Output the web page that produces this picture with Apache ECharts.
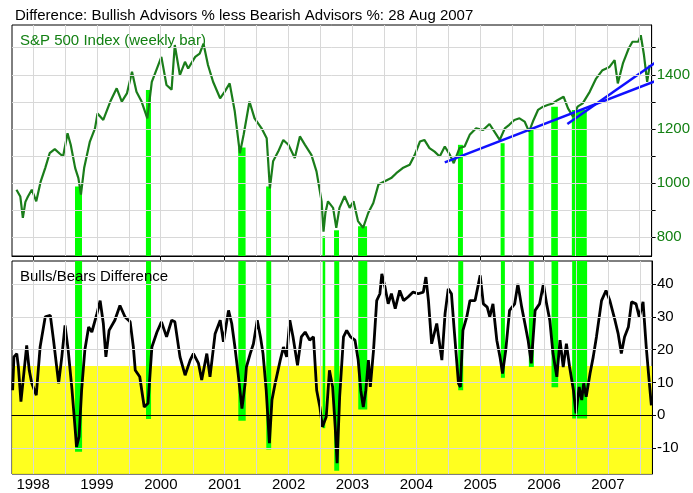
<!DOCTYPE html>
<html>
<head>
<meta charset="utf-8">
<script src="https://cdn.jsdelivr.net/npm/echarts@6/dist/echarts.min.js"></script>
<style>
  html, body { margin: 0; padding: 0; background: #fff; }
  #main { width: 693px; height: 493px; }
</style>
</head>
<body>
<div id="main"></div>
<script>
// S&P 500 (weekly), x in decimal years
const spDates = [1997.74,1997.80,1997.84,1997.88,1997.92,1997.98,1998.05,1998.12,1998.19,1998.26,1998.34,1998.42,1998.47,1998.54,1998.59,1998.66,1998.71,1998.75,1998.80,1998.89,1998.97,
  1999.01,1999.10,1999.21,1999.31,1999.39,1999.47,1999.55,1999.62,1999.70,1999.79,1999.86,1999.94,
  2000.01,2000.09,2000.17,2000.22,2000.30,2000.38,2000.43,2000.54,2000.61,2000.67,2000.74,2000.82,2000.93,
  2001.00,2001.08,2001.16,2001.24,2001.30,2001.39,2001.47,2001.58,2001.66,2001.71,2001.76,2001.84,2001.92,
  2002.00,2002.10,2002.18,2002.26,2002.36,2002.44,2002.52,2002.55,2002.58,2002.62,2002.70,2002.75,2002.80,2002.88,2002.96,
  2003.02,2003.09,2003.17,2003.25,2003.33,2003.41,2003.51,2003.61,2003.69,2003.79,2003.90,2003.98,
  2004.06,2004.13,2004.21,2004.29,2004.37,2004.45,2004.53,2004.59,2004.68,2004.76,2004.84,2004.94,
  2005.05,2005.15,2005.26,2005.31,2005.39,2005.46,2005.54,2005.62,2005.70,2005.77,2005.83,2005.91,2005.99,
  2006.06,2006.14,2006.22,2006.31,2006.38,2006.46,2006.53,2006.61,2006.72,2006.82,2006.92,
  2007.03,2007.11,2007.16,2007.24,2007.33,2007.39,2007.48,2007.52,2007.57,2007.62,2007.66];
const spValues = [975,950,871,930,950,975,932,1006,1055,1110,1125,1108,1098,1184,1141,1055,1018,957,1055,1153,1202,
  1257,1233,1301,1350,1301,1331,1411,1337,1301,1239,1374,1423,
  1466,1362,1345,1510,1399,1448,1423,1466,1478,1515,1436,1374,1313,
  1337,1368,1264,1110,1180,1301,1239,1202,1165,980,1080,1116,1159,
  1141,1092,1172,1141,1104,1043,932,820,890,932,908,834,908,951,908,
  932,859,834,889,926,994,1006,1018,1036,1055,1067,1104,
  1153,1159,1129,1116,1098,1135,1104,1073,1129,1135,1178,1202,
  1196,1218,1178,1159,1202,1215,1233,1239,1227,1190,1227,1270,1282,
  1288,1294,1307,1319,1276,1245,1282,1294,1337,1386,1417,
  1429,1454,1368,1442,1497,1522,1522,1546,1473,1374,1436];

// Bulls/Bears difference (%)
const diffDates = [1997.68,1997.70,1997.745,1997.77,1997.81,1997.85,1997.90,1997.94,1997.98,1998.05,1998.11,1998.19,1998.27,1998.32,1998.40,1998.45,1998.50,1998.55,1998.61,1998.66,1998.68,1998.72,1998.76,1998.81,1998.87,1998.92,
  1999.00,1999.05,1999.10,1999.14,1999.19,1999.28,1999.36,1999.44,1999.52,1999.57,1999.60,1999.67,1999.74,1999.80,1999.86,1999.94,
  2000.01,2000.09,2000.17,2000.22,2000.30,2000.38,2000.46,2000.51,2000.59,2000.64,2000.72,2000.77,2000.85,2000.93,2000.98,
  2001.06,2001.11,2001.16,2001.21,2001.27,2001.32,2001.34,2001.40,2001.45,2001.51,2001.56,2001.60,2001.65,2001.70,2001.74,2001.79,2001.87,2001.92,2001.97,
  2002.02,2002.07,2002.14,2002.20,2002.26,2002.33,2002.39,2002.44,2002.49,2002.53,2002.59,2002.64,2002.69,2002.73,2002.76,2002.80,2002.86,2002.91,2002.97,
  2003.04,2003.09,2003.13,2003.17,2003.21,2003.25,2003.28,2003.33,2003.38,2003.43,2003.46,2003.51,2003.56,2003.61,2003.67,2003.74,2003.80,2003.87,2003.95,
  2004.03,2004.11,2004.15,2004.19,2004.24,2004.32,2004.40,2004.45,2004.50,2004.55,2004.59,2004.66,2004.69,2004.73,2004.79,2004.84,2004.92,
  2005.00,2005.05,2005.11,2005.15,2005.20,2005.26,2005.31,2005.35,2005.40,2005.46,2005.54,2005.59,2005.65,2005.70,2005.75,2005.80,2005.86,2005.93,2005.99,
  2006.04,2006.09,2006.14,2006.20,2006.25,2006.30,2006.35,2006.40,2006.46,2006.50,2006.55,2006.59,2006.62,2006.66,2006.72,2006.77,2006.82,2006.90,2006.97,
  2007.03,2007.11,2007.16,2007.21,2007.26,2007.32,2007.37,2007.44,2007.49,2007.55,2007.60,2007.64,2007.68];
const diffValues = [7.6,17.8,18.8,14.7,4.1,11.7,21.3,13.7,9.7,6.1,20.8,30,30.5,22.9,9.7,17.8,27.4,19.8,7.6,-4.6,-9.7,-6.6,7.6,19.8,26.9,25.4,
  31,35,28,17.8,25.9,29,33.5,30,28.5,20.8,13.7,11.7,2.5,3.6,20.8,25.4,
  28.5,23.9,29,28.5,17.8,12.2,16.8,18.8,15.8,10.7,18.8,11.7,24.9,29,22.4,
  32,28,20.8,12.7,2.0,9.7,14.7,18.8,21.8,29,23.9,18.8,7.6,-8.6,4.6,9.7,16.8,20.8,17.8,
  29,23.9,15.2,23.9,25.4,22.9,23.9,7.6,2.5,-3.6,-0.5,13.7,8.6,-3.6,-14.7,5.6,23.9,25.9,23.9,
  22.9,16.8,7.6,2.5,7.6,16.8,8.6,19.8,35,37.1,43.2,39.1,34,37.1,32.5,38.1,35,36.1,37.6,
  37.1,37.6,42.2,35,21.8,28,16.8,31,38.6,37.1,26.9,9.7,8.6,25.9,30,35,35,
  42.7,34,33,30,34,22.9,17.8,12.7,19.8,32,34,40.1,33,28,22.9,15.8,32,34,40.1,
  34,29,18.8,11.7,22.9,14.7,21.8,14.7,7.6,0.5,8.6,4.6,9.7,5.6,12.7,17.8,23.9,35,38.1,
  35,29,24.9,18.8,23.9,26.9,34.6,34,30,34.6,20.8,11.7,3];

// green signal bands: start, end, S&P level where band tops out, difference level where band ends
const bandStart = [1998.657,1999.768,2001.213,2001.651,2002.534,2002.715,2003.091,2004.656,2005.324,2005.762,2006.117,2006.440];
const bandEnd   = [1998.767,1999.847,2001.329,2001.728,2002.574,2002.793,2003.232,2004.734,2005.387,2005.840,2006.221,2006.674];
const bandSpTop = [987,1344,1131,987,803,825,840,1141,1147,1202,1282,1270];
const bandDiffLow = [-11.2,-1.2,-1.7,-10.5,-4,-17,1.7,7.6,11.4,14.7,8.5,-1];

// blue trend lines on the S&P panel
const trendDates1 = [2004.45, 2007.765];
const trendValues1 = [1076, 1378];
const trendDates2 = [2006.37, 2007.765];
const trendValues2 = [1218, 1448];

const yearTicks = [1998,1999,2000,2001,2002,2003,2004,2005,2006,2007];
const halfYears = [1998,1998.5,1999,1999.5,2000,2000.5,2001,2001.5,2002,2002.5,2003,2003.5,2004,2004.5,2005,2005.5,2006,2006.5,2007,2007.5];
const spTicks = [800,900,1000,1100,1200,1300,1400,1500];
const spLabels = [800,1000,1200,1400];
const diffTicks = [-10,0,10,20,30,40];
const yellowLevel = 15;

const X_MIN = 1997.67, X_MAX = 2007.69;
const SP_MIN = 730, SP_MAX = 1584;
const D_MIN = -18, D_MAX = 47.1;

const pairs = (xs, ys) => xs.map((x, i) => [x, ys[i]]);
const GRID_COLOR = '#d8d8d8';
const FONT = 'Arial, "Liberation Sans", sans-serif';

const chart = echarts.init(document.getElementById('main'));

function xAxisFor(gridIndex, labels) {
  return {
    gridIndex, type: 'value', min: X_MIN, max: X_MAX, position: 'bottom',
    axisLine: { show: true, lineStyle: { color: '#000', width: 1 } },
    axisTick: { show: true, customValues: yearTicks, length: 4, lineStyle: { color: '#000' } },
    axisLabel: labels ? { show: true, customValues: yearTicks, color: '#000', fontSize: 15, fontFamily: FONT, margin: 3, formatter: v => String(v) } : { show: false },
    splitLine: { show: false }
  };
}

// light grey grid drawn as mark lines so they can sit on fixed half-year / level positions
function gridLines(xIdx, yIdx, levels) {
  return {
    type: 'line', xAxisIndex: xIdx, yAxisIndex: yIdx, data: [], z: 0, silent: true,
    markLine: { silent: true, symbol: 'none', label: { show: false }, animation: false,
      lineStyle: { color: GRID_COLOR, width: 1, type: 'solid' },
      data: halfYears.map(v => ({ xAxis: v })).concat(levels.map(v => ({ yAxis: v }))) }
  };
}

const option = {
  animation: false,
  backgroundColor: '#fff',
  title: [
    { text: 'Difference: Bullish Advisors % less Bearish Advisors %: 28 Aug 2007', left: 10, top: 3,
      textStyle: { fontSize: 15, fontWeight: 'normal', color: '#000', fontFamily: FONT } },
    { text: 'S&P 500 Index (weekly bar)', left: 15, top: 28,
      textStyle: { fontSize: 15, fontWeight: 'normal', color: '#138013', fontFamily: FONT } },
    { text: 'Bulls/Bears Difference', left: 15, top: 264,
      textStyle: { fontSize: 15, fontWeight: 'normal', color: '#000', fontFamily: FONT } }
  ],
  grid: [
    { left: 12, right: 41, top: 25, height: 231, show: true, borderColor: '#000', borderWidth: 1, backgroundColor: 'transparent' },
    { left: 12, right: 41, top: 261, height: 213, show: true, borderColor: '#000', borderWidth: 1, backgroundColor: 'transparent' }
  ],
  xAxis: [xAxisFor(0, false), xAxisFor(1, true)],
  yAxis: [
    { gridIndex: 0, type: 'value', position: 'right', min: SP_MIN, max: SP_MAX,
      axisLine: { show: true, lineStyle: { color: '#000' } },
      axisTick: { show: true, customValues: spTicks, length: 4, lineStyle: { color: '#000' } },
      axisLabel: { customValues: spLabels, color: '#138013', fontSize: 15, fontFamily: FONT, margin: 5, formatter: v => String(v) },
      splitLine: { show: false } },
    { gridIndex: 1, type: 'value', position: 'right', min: D_MIN, max: D_MAX,
      axisLine: { show: true, lineStyle: { color: '#000' } },
      axisTick: { show: true, customValues: diffTicks, length: 4, lineStyle: { color: '#000' } },
      axisLabel: { customValues: diffTicks, color: '#000', fontSize: 15, fontFamily: FONT, margin: 5, formatter: v => String(v) },
      splitLine: { show: false } }
  ],
  series: [
    gridLines(0, 0, spTicks),
    gridLines(1, 1, diffTicks.filter(v => v !== 0)),
    // bands on the S&P panel
    { type: 'line', xAxisIndex: 0, yAxisIndex: 0, data: [], z: 1, silent: true,
      markArea: { silent: true, itemStyle: { color: '#00ff00' },
        data: bandStart.map((s, i) => [{ xAxis: s, yAxis: bandSpTop[i] }, { xAxis: bandEnd[i], yAxis: SP_MIN }]) } },
    { name: 'S&P 500', type: 'line', xAxisIndex: 0, yAxisIndex: 0, z: 3,
      data: pairs(spDates, spValues), showSymbol: false,
      lineStyle: { color: '#1a7d1a', width: 2.2 } },
    { type: 'line', xAxisIndex: 0, yAxisIndex: 0, z: 4, clip: false,
      data: pairs(trendDates1, trendValues1), showSymbol: false,
      lineStyle: { color: '#1010ff', width: 2.5 } },
    { type: 'line', xAxisIndex: 0, yAxisIndex: 0, z: 4, clip: false,
      data: pairs(trendDates2, trendValues2), showSymbol: false,
      lineStyle: { color: '#1010ff', width: 2.5 } },
    // yellow zone below 15 and zero line
    { type: 'line', xAxisIndex: 1, yAxisIndex: 1, data: [], z: 1, silent: true,
      markArea: { silent: true, itemStyle: { color: 'rgba(255,255,0,0.88)' },
        data: [[{ xAxis: X_MIN, yAxis: yellowLevel }, { xAxis: X_MAX, yAxis: D_MIN }]] } },
    { type: 'line', xAxisIndex: 1, yAxisIndex: 1, data: [], z: 2, silent: true,
      markArea: { silent: true, itemStyle: { color: '#00ff00' },
        data: bandStart.map((s, i) => [{ xAxis: s, yAxis: D_MAX }, { xAxis: bandEnd[i], yAxis: bandDiffLow[i] }]) },
      markLine: { silent: true, symbol: 'none', label: { show: false },
        lineStyle: { color: '#000', width: 1, type: 'solid' }, data: [{ yAxis: 0 }] } },
    { name: 'Bulls/Bears', type: 'line', xAxisIndex: 1, yAxisIndex: 1, z: 3,
      data: pairs(diffDates, diffValues), showSymbol: false,
      lineStyle: { color: '#000', width: 2.8 } }
  ]
};

chart.setOption(option);
</script>
</body>
</html>
